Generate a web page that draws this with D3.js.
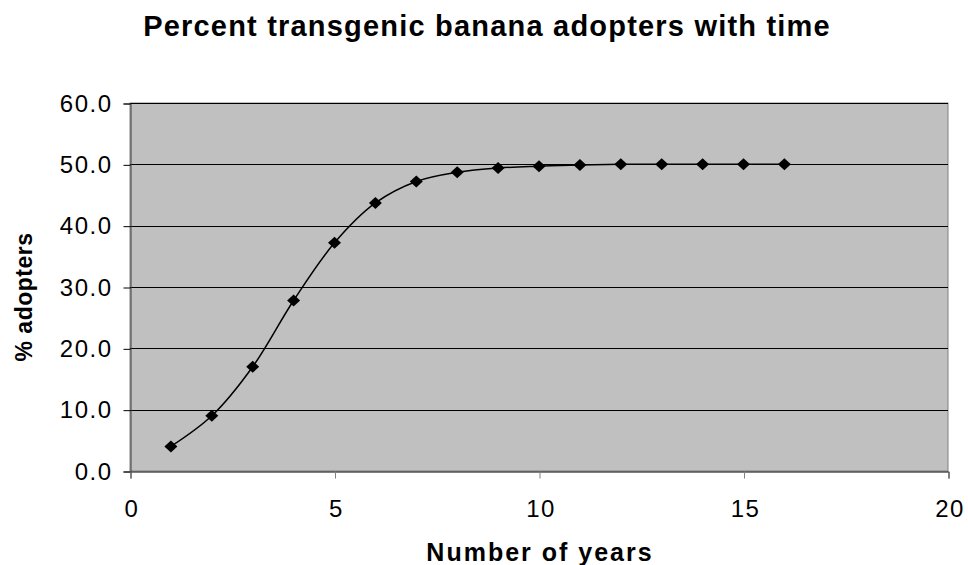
<!DOCTYPE html>
<html>
<head>
<meta charset="utf-8">
<script src="https://cdn.jsdelivr.net/npm/d3@7"></script>
<style>
  body { margin: 0; background: #fff; }
  text { font-family: "Liberation Sans", Arial, sans-serif; fill: #000; }
</style>
</head>
<body>
<svg width="968" height="565"></svg>
<script>
const years = [1, 2, 3, 4, 5, 6, 7, 8, 9, 10, 11, 12, 13, 14, 15, 16];
const adopters = [4.0, 9.0, 17.0, 27.8, 37.2, 43.7, 47.2, 48.7, 49.4, 49.7, 49.9, 50.0, 50.0, 50.0, 50.0, 50.0];
const xTicks = [0, 5, 10, 15, 20];
const yTicks = [0, 10, 20, 30, 40, 50, 60];

const svg = d3.select("svg");
const plot = { left: 130, right: 948, top: 103, bottom: 471 };

const x = d3.scaleLinear().domain([0, 20]).range([plot.left, plot.right]);
const y = d3.scaleLinear().domain([0, 60]).range([plot.bottom, plot.top]);

// plot area
svg.append("rect")
  .attr("x", plot.left).attr("y", plot.top)
  .attr("width", plot.right - plot.left).attr("height", plot.bottom - plot.top)
  .attr("fill", "#c0c0c0")
  .attr("stroke", "#808080");

// gridlines
svg.append("g").selectAll("line")
  .data(yTicks.slice(1))
  .enter().append("line")
    .attr("x1", plot.left).attr("x2", plot.right)
    .attr("y1", d => Math.round(y(d)) + 0.5).attr("y2", d => Math.round(y(d)) + 0.5)
    .attr("stroke", "#000").attr("stroke-width", 1);

// y axis
const yAxis = svg.append("g")
  .attr("transform", "translate(" + (plot.left + 0.5) + ",0.5)")
  .call(d3.axisLeft(y).tickValues(yTicks).tickFormat(d3.format(".1f")).tickSizeOuter(0).tickSize(7).tickPadding(11));
yAxis.select(".domain").attr("stroke", "#404040");
yAxis.selectAll(".tick line").attr("stroke", "#000");
yAxis.selectAll("text").style("font-size", "24px").style("letter-spacing", "1.5px").attr("fill", "#000");

// x axis
const xAxis = svg.append("g")
  .attr("transform", "translate(0.5," + (plot.bottom + 0.5) + ")")
  .call(d3.axisBottom(x).tickValues(xTicks).tickSizeOuter(0).tickSize(7).tickPadding(21));
xAxis.select(".domain").attr("stroke", "#000");
xAxis.selectAll(".tick line").attr("stroke", "#808080");
xAxis.selectAll("text").style("font-size", "24px").style("letter-spacing", "1.5px").attr("dx", "1px").attr("fill", "#000");

// series line (smoothed)
const pts = years.map((d, i) => [d, adopters[i]]);
svg.append("path")
  .datum(pts)
  .attr("fill", "none")
  .attr("stroke", "#000")
  .attr("stroke-width", 1.5)
  .attr("d", d3.line().x(d => x(d[0])).y(d => y(d[1])).curve(d3.curveCatmullRom.alpha(0.5)));

// markers
svg.append("g").selectAll("path")
  .data(pts)
  .enter().append("path")
    .attr("transform", d => "translate(" + x(d[0]) + "," + y(d[1]) + ")")
    .attr("d", "M0,-6L6.5,0L0,6L-6.5,0Z")
    .attr("fill", "#000");

// title
svg.append("text")
  .attr("x", 487).attr("y", 36)
  .attr("text-anchor", "middle")
  .style("font-size", "29px").style("font-weight", "bold")
  .style("letter-spacing", "1.2px")
  .text("Percent transgenic banana adopters with time");

svg.append("text")
  .attr("x", 540).attr("y", 561)
  .attr("text-anchor", "middle")
  .style("font-size", "25px").style("font-weight", "bold")
  .style("letter-spacing", "2px")
  .text("Number of years");

svg.append("text")
  .attr("transform", "translate(32,297) rotate(-90)")
  .attr("text-anchor", "middle")
  .style("font-size", "23px").style("font-weight", "bold")
  .style("letter-spacing", "0.5px")
  .text("% adopters");
</script>
</body>
</html>
